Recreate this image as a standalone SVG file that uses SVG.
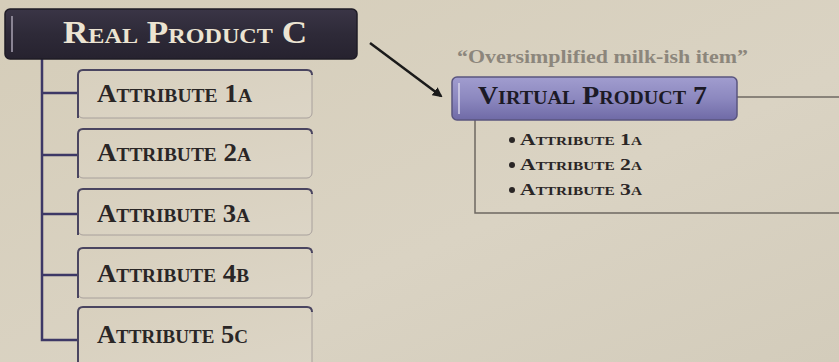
<svg xmlns="http://www.w3.org/2000/svg" width="839" height="362" viewBox="0 0 839 362">
<defs>
<linearGradient id="bg" x1="0" y1="0" x2="1" y2="1">
<stop offset="0" stop-color="#d5cdb9"/>
<stop offset="0.6" stop-color="#dad3c3"/>
<stop offset="1" stop-color="#d3ccbb"/>
</linearGradient>
<linearGradient id="dark" x1="0" y1="0" x2="0" y2="1">
<stop offset="0" stop-color="#3a3546"/>
<stop offset="0.5" stop-color="#2e2a38"/>
<stop offset="1" stop-color="#26222f"/>
</linearGradient>
<linearGradient id="virt" x1="0" y1="0" x2="0" y2="1">
<stop offset="0" stop-color="#a19dcf"/>
<stop offset="0.5" stop-color="#8c88bf"/>
<stop offset="1" stop-color="#6f6aa6"/>
</linearGradient>
<linearGradient id="boxfill" x1="0" y1="0" x2="1" y2="1">
<stop offset="0" stop-color="#d8d0be"/>
<stop offset="1" stop-color="#dcd5c6"/>
</linearGradient>
<marker id="ah" markerWidth="10" markerHeight="10" refX="8" refY="5" orient="auto" markerUnits="userSpaceOnUse">
<path d="M0,0 L10,5 L0,10 Z" fill="#1a1a1a"/>
</marker>
<style>
.tree{stroke:#3d3866;stroke-width:2.5;fill:none}
.thin{stroke:#6e6862;stroke-width:1.5;fill:none}
.box{fill:url(#boxfill);stroke:#a8a09c;stroke-width:1}
.boxtop{stroke:#4a4560;stroke-width:2;fill:none}
.lbl{font-family:"Liberation Serif",serif;font-weight:bold;font-variant:small-caps;font-size:25px;fill:#2a2626}
.blt{font-family:"Liberation Serif",serif;font-weight:bold;font-variant:small-caps;font-size:17px;fill:#2a2626}
</style>
</defs>
<rect width="839" height="362" fill="url(#bg)"/>

<g id="connectors">
<path class="tree" d="M42,58 V340 H78 M42,93 H78 M42,155 H78 M42,214 H78 M42,275 H78"/>
<line x1="370" y1="43" x2="441" y2="96" stroke="#1a1a1a" stroke-width="2.5" marker-end="url(#ah)"/>
<path class="thin" d="M737,97 H839"/>
<path class="thin" d="M475,120 V213 H839"/>
</g>

<g id="real-product-c">
<rect x="5" y="9" width="352" height="50" rx="5" fill="url(#dark)" stroke="#1f1c26" stroke-width="1.5"/>
<line x1="12" y1="16" x2="12" y2="52" stroke="#8a8494" stroke-width="2"/>
<text x="63" y="43" font-family="Liberation Serif, serif" font-weight="bold" font-variant="small-caps" font-size="32" fill="#ece4d2" textLength="244" lengthAdjust="spacingAndGlyphs">Real Product C</text>
</g>

<g id="attr-1a">
<rect class="box" x="78" y="70" width="234" height="48" rx="5"/>
<path class="boxtop" d="M78,118 V75 Q78,70 83,70 H307 Q312,70 312,75"/>
<text class="lbl" x="97" y="102" textLength="155" lengthAdjust="spacingAndGlyphs">Attribute 1a</text>
</g>
<g id="attr-2a">
<rect class="box" x="78" y="129" width="234" height="49" rx="5"/>
<path class="boxtop" d="M78,178 V134 Q78,129 83,129 H307 Q312,129 312,134"/>
<text class="lbl" x="97" y="161" textLength="154" lengthAdjust="spacingAndGlyphs">Attribute 2a</text>
</g>
<g id="attr-3a">
<rect class="box" x="78" y="189" width="234" height="46" rx="5"/>
<path class="boxtop" d="M78,235 V194 Q78,189 83,189 H307 Q312,189 312,194"/>
<text class="lbl" x="97" y="222" textLength="153" lengthAdjust="spacingAndGlyphs">Attribute 3a</text>
</g>
<g id="attr-4b">
<rect class="box" x="78" y="248" width="234" height="50" rx="5"/>
<path class="boxtop" d="M78,298 V253 Q78,248 83,248 H307 Q312,248 312,253"/>
<text class="lbl" x="97" y="282" textLength="152" lengthAdjust="spacingAndGlyphs">Attribute 4b</text>
</g>
<g id="attr-5c">
<rect class="box" x="78" y="307" width="234" height="62" rx="5"/>
<path class="boxtop" d="M78,362 V312 Q78,307 83,307 H307 Q312,307 312,312"/>
<text class="lbl" x="97" y="343" textLength="151" lengthAdjust="spacingAndGlyphs">Attribute 5c</text>
</g>

<g id="quote">
<text x="457" y="63" font-family="Liberation Serif, serif" font-weight="bold" font-size="18" fill="#8c867c" textLength="291" lengthAdjust="spacingAndGlyphs">“Oversimplified milk-ish item”</text>
</g>

<g id="virtual-product-7">
<rect x="452" y="77" width="285" height="43" rx="5" fill="url(#virt)" stroke="#5a557f" stroke-width="1.5"/>
<line x1="459" y1="83" x2="459" y2="114" stroke="#d6d3ea" stroke-width="1.5"/>
<text x="478" y="104" font-family="Liberation Serif, serif" font-weight="bold" font-variant="small-caps" font-size="25" fill="#1c1a26" textLength="229" lengthAdjust="spacingAndGlyphs">Virtual Product 7</text>
</g>

<g id="virtual-attributes">
<circle cx="512" cy="140" r="3" fill="#2a2626"/>
<text class="blt" x="520" y="145" textLength="122" lengthAdjust="spacingAndGlyphs">Attribute  1a</text>
<circle cx="512" cy="165" r="3" fill="#2a2626"/>
<text class="blt" x="520" y="170" textLength="122" lengthAdjust="spacingAndGlyphs">Attribute  2a</text>
<circle cx="512" cy="190" r="3" fill="#2a2626"/>
<text class="blt" x="520" y="195" textLength="122" lengthAdjust="spacingAndGlyphs">Attribute  3a</text>
</g>
</svg>
